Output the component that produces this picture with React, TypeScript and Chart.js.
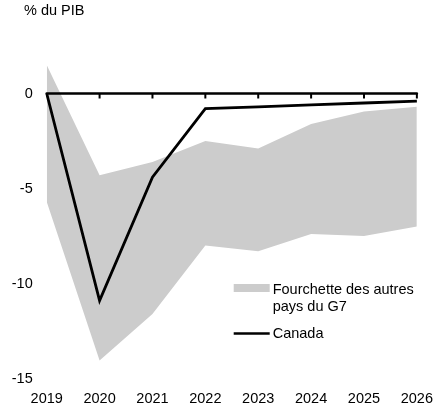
import React, { useEffect, useRef } from "react";
import { Chart, registerables } from "chart.js";

Chart.register(...registerables);

const years = ["2019", "2020", "2021", "2022", "2023", "2024", "2025", "2026"];
const canada = [0, -10.9, -4.4, -0.8, -0.7, -0.6, -0.5, -0.4];
const rangeUpper = [1.5, -4.3, -3.6, -2.5, -2.9, -1.6, -0.95, -0.7];
const rangeLower = [-5.7, -14.05, -11.6, -8.0, -8.3, -7.4, -7.5, -7.0];
const yTicks = [0, -5, -10, -15];
const yTitle = "% du PIB";
const legendBand = ["Fourchette des autres", "pays du G7"];
const legendLine = "Canada";

const FONT = "'Liberation Sans', Arial, sans-serif";
const FS = 14.5;

export default function App() {
  const ref = useRef<HTMLCanvasElement>(null);
  useEffect(() => {
    const canvas = ref.current!;
    const overlay = {
      id: "overlay",
      afterDatasetsDraw(chart: any) {
        const ctx = chart.ctx;
        const x = chart.scales.x;
        const y = chart.scales.y;
        const y0 = y.getPixelForValue(0);
        ctx.save();
        ctx.strokeStyle = "#000";
        ctx.lineWidth = 2.5;
        ctx.lineCap = "round";
        ctx.beginPath();
        ctx.moveTo(x.getPixelForValue(0), y0);
        ctx.lineTo(x.getPixelForValue(years.length - 1), y0);
        ctx.stroke();
        ctx.lineWidth = 2;
        ctx.lineCap = "butt";
        for (let i = 1; i < years.length; i++) {
          const px = x.getPixelForValue(i);
          ctx.beginPath();
          ctx.moveTo(px, y0);
          ctx.lineTo(px, y0 + 5);
          ctx.stroke();
        }
        ctx.restore();
      },
      afterDraw(chart: any) {
        const ctx = chart.ctx;
        const a = chart.chartArea;
        ctx.save();
        ctx.font = `${FS}px ${FONT}`;
        ctx.fillStyle = "#000";
        ctx.textBaseline = "middle";
        ctx.textAlign = "left";
        ctx.fillText(yTitle, 24, 11);
        const lx = a.left + 187;
        const ly = a.top + 242;
        ctx.fillStyle = "#cccccc";
        ctx.fillRect(lx, ly - 4, 36, 8);
        ctx.fillStyle = "#000";
        ctx.fillText(legendBand[0], lx + 39, ly + 2);
        ctx.fillText(legendBand[1], lx + 39, ly + 19);
        ctx.strokeStyle = "#000";
        ctx.lineWidth = 2.5;
        ctx.beginPath();
        ctx.moveTo(lx, ly + 45.5);
        ctx.lineTo(lx + 36, ly + 45.5);
        ctx.stroke();
        ctx.fillText(legendLine, lx + 39, ly + 46);
        ctx.restore();
      },
    };
    const chart = new Chart(canvas, {
      type: "line",
      data: {
        labels: years,
        datasets: [
          {
            label: "upper",
            data: rangeUpper,
            borderWidth: 0,
            borderColor: "rgba(0,0,0,0)",
            backgroundColor: "#cccccc",
            pointRadius: 0,
            fill: "+1",
            tension: 0,
            order: 3,
          },
          {
            label: "lower",
            data: rangeLower,
            borderWidth: 0,
            borderColor: "rgba(0,0,0,0)",
            backgroundColor: "#cccccc",
            pointRadius: 0,
            fill: false,
            tension: 0,
            order: 2,
          },
          {
            label: legendLine,
            data: canada,
            borderWidth: 2.8,
            borderColor: "#000",
            pointRadius: 0,
            fill: false,
            tension: 0,
            order: 1,
          },
        ],
      },
      options: {
        responsive: false,
        animation: false,
        layout: { padding: { top: 46, right: 20, left: 0, bottom: 0 } },
        plugins: { legend: { display: false }, tooltip: { enabled: false } },
        scales: {
          x: {
            type: "category",
            offset: false,
            grid: { display: false, drawTicks: false },
            border: { display: false },
            ticks: { color: "#000", font: { family: FONT, size: FS }, padding: 12, maxRotation: 0, autoSkip: false },
            afterFit(s: any) {
              s.height = 30.5;
            },
          },
          y: {
            min: -15,
            max: 2.5,
            grid: { display: false, drawTicks: false },
            border: { display: false },
            ticks: { color: "#000", font: { family: FONT, size: FS }, padding: 14 },
            afterBuildTicks(s: any) {
              s.ticks = yTicks.map((v) => ({ value: v }));
            },
            afterFit(s: any) {
              s.width = 46.7;
            },
          },
        },
      },
      plugins: [overlay],
    });
    return () => chart.destroy();
  }, []);
  return (
    <div style={{ position: "fixed", left: 0, top: 0, width: 445, height: 409, background: "#fff" }}>
      <canvas ref={ref} width={445} height={409} />
    </div>
  );
}
